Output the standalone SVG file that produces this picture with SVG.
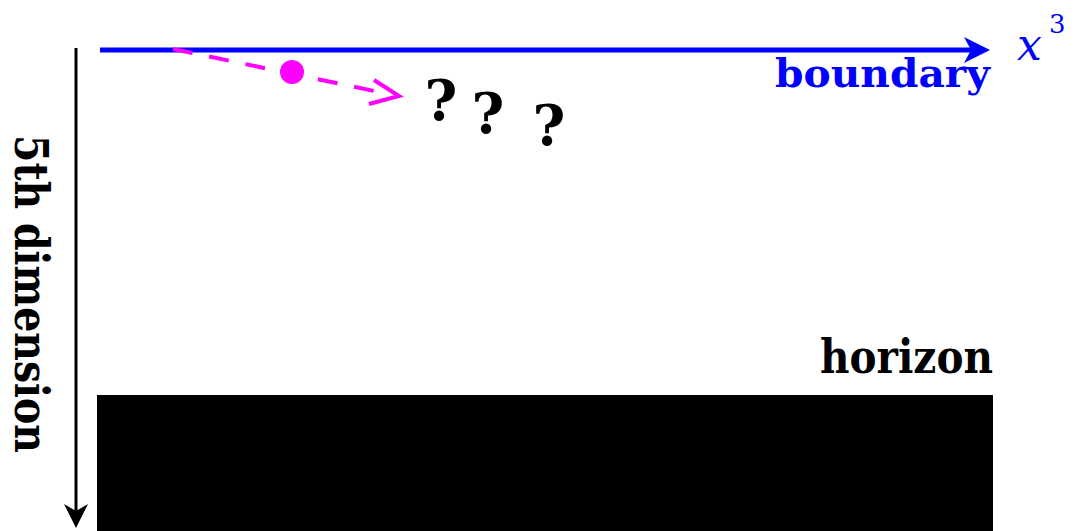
<svg xmlns="http://www.w3.org/2000/svg" width="1075" height="531" viewBox="0 0 1075 531">
<style>
.lbl{font-family:"DejaVu Serif","Liberation Serif",serif;font-weight:bold}
.q{font-family:"DejaVu Serif","Liberation Serif",serif;font-weight:bold;font-size:56px;fill:#000;text-anchor:middle}
</style>
<rect width="1075" height="531" fill="#fff"/>
<g id="horizon-region">
<rect x="97" y="395" width="896" height="140" fill="#000"/>
<text class="lbl" x="820" y="373" font-size="46" textLength="173" lengthAdjust="spacingAndGlyphs" fill="#000">horizon</text>
</g>
<g id="axes">
<line x1="100" y1="50" x2="972" y2="50" stroke="#0000ff" stroke-width="5"/>
<polygon points="964,37 990,50 964,63 971,50" fill="#0000ff"/>
<line x1="76" y1="48" x2="76" y2="520" stroke="#000" stroke-width="3"/>
<polygon points="64,504 76,528 88,504 76,511" fill="#000"/>
</g>
<g id="labels">
<text class="lbl" x="775" y="87" font-size="39" textLength="215" lengthAdjust="spacingAndGlyphs" fill="#0000ff">boundary</text>
<text x="1017" y="60" font-family="DejaVu Serif,'Liberation Serif',serif" font-style="italic" font-size="44" fill="#0000ff">x</text>
<text x="1049" y="33" font-family="DejaVu Serif,'Liberation Serif',serif" font-size="26" fill="#0000ff">3</text>
<text class="lbl" transform="translate(15,135) rotate(90)" font-size="46" textLength="318" lengthAdjust="spacingAndGlyphs" fill="#000">5th dimension</text>
</g>
<g id="connectors">
<line x1="173" y1="49" x2="384" y2="93" stroke="#ff00ff" stroke-width="4" stroke-dasharray="20 17"/>
<polyline points="374,80 399,96 369,104" fill="none" stroke="#ff00ff" stroke-width="4"/>
</g>
<g id="particle">
<circle cx="292" cy="72" r="12" fill="#ff00ff"/>
</g>
<g id="questions">
<text class="q" x="441" y="120">?</text>
<text class="q" x="488" y="133">?</text>
<text class="q" x="549" y="145">?</text>
</g>
</svg>
